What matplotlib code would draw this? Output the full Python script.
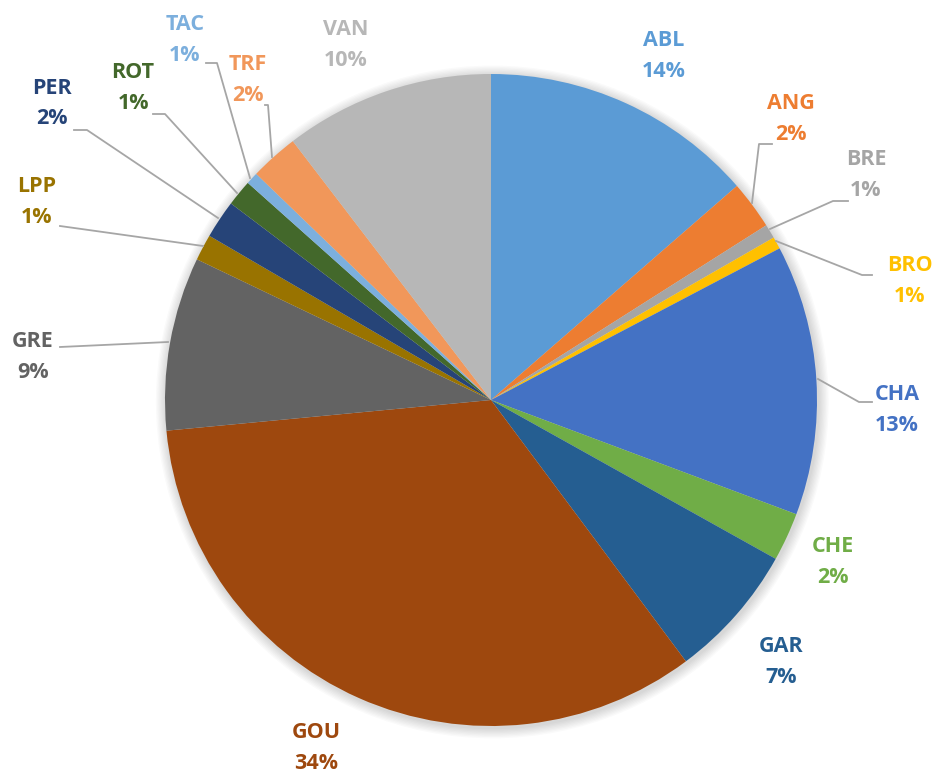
import numpy as np
import matplotlib.pyplot as plt

# categories and shares (clockwise from 12 o'clock)
names = ['ABL', 'ANG', 'BRE', 'BRO', 'CHA', 'CHE', 'GAR', 'GOU',
         'GRE', 'LPP', 'PER', 'ROT', 'TAC', 'TRF', 'VAN']
values = [13.6, 2.4, 0.7, 0.6, 13.4, 2.4, 6.7, 33.7,
          8.6, 1.3, 1.9, 1.3, 0.6, 2.4, 10.4]
colors = ['#5B9BD5', '#ED7D31', '#A5A5A5', '#FFC000', '#4472C4', '#70AD47',
          '#255E91', '#9E480E', '#636363', '#997300', '#264478', '#43682B',
          '#7CAFDD', '#F1975A', '#B7B7B7']

# label placement in pie-radius units
label_pos = {
    'ABL': (0.531, 1.055), 'ANG': (0.920, 0.862), 'BRE': (1.150, 0.690),
    'BRO': (1.285, 0.365), 'CHA': (1.245, -0.031), 'CHE': (1.049, -0.497),
    'GAR': (0.890, -0.804), 'GOU': (-0.537, -1.067), 'GRE': (-1.405, 0.132),
    'LPP': (-1.393, 0.607), 'PER': (-1.347, 0.909), 'ROT': (-1.098, 0.957),
    'TAC': (-0.939, 1.104), 'TRF': (-0.745, 0.982), 'VAN': (-0.445, 1.089),
}
# leader lines in pixel coords of the 933x778 image
leaders = {
    'ANG': [(752, 203), (759, 144), (772, 144)],
    'BRE': [(770, 229), (833, 201), (848, 201)],
    'BRO': [(776, 241), (862, 275), (872, 275)],
    'CHA': [(818, 379), (859, 402), (872, 402)],
    'GRE': [(168, 342), (60, 347)],
    'LPP': [(203, 246), (60, 226)],
    'PER': [(218, 218), (87, 130), (74, 130)],
    'ROT': [(237, 193), (165, 114), (153, 114)],
    'TAC': [(250, 178), (217, 63), (206, 63)],
    'TRF': [(272, 157), (268, 105), (265, 105)],
}

CX, CY, R = 491, 400, 326


def px(p):
    return ((p[0] - CX) / R, (CY - p[1]) / R)


fig = plt.figure(figsize=(9.33, 7.78), dpi=100)
ax = fig.add_axes([0, 0, 1, 1])

# soft shadow behind the pie
for i in range(8):
    ax.add_patch(plt.Circle((0.004, -0.006), 1.0 + 0.004 * (i + 1),
                            color='black', alpha=0.018, lw=0, zorder=0))

ax.pie(values, colors=colors, startangle=90, counterclock=False, radius=1.0,
       wedgeprops=dict(linewidth=0), center=(0, 0), frame=True)
ax.set_xlim(-CX / R, (933 - CX) / R)
ax.set_ylim((CY - 778) / R, CY / R)
ax.set_aspect('equal')
ax.axis('off')

total = sum(values)
for name, v, c in zip(names, values, colors):
    x, y = label_pos[name]
    ax.text(x, y, f'{name}\n{round(v / total * 100):.0f}%', color=c,
            ha='center', va='center', fontsize=15.5, fontweight='bold',
            family='Open Sans', linespacing=1.6)
    if name in leaders:
        pts = np.array([px(p) for p in leaders[name]])
        ax.plot(pts[:, 0], pts[:, 1], color='#A6A6A6', lw=1.3, zorder=5)

fig.savefig('out.png', dpi=100)
